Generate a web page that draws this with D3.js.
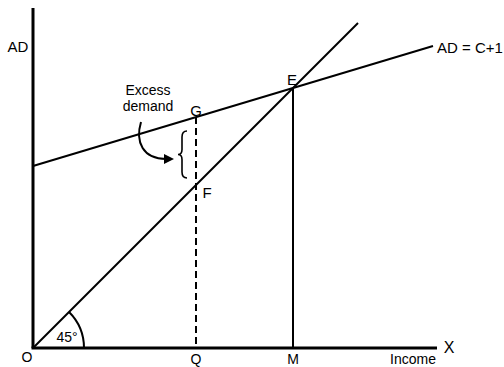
<!DOCTYPE html>
<html>
<head>
<meta charset="utf-8">
<script src="https://cdn.jsdelivr.net/npm/d3@7"></script>
<style>
	body { margin: 0; background: white; }
	svg { display: block; font-family: "Liberation Sans", Arial, sans-serif; }
</style>
</head>
<body>
<div id="viz"></div>
<script>
// Keynesian cross: income (x) against aggregate demand (y)
let line45 = [
	{"income": 0, "ad": 0},
	{"income": 325, "ad": 325}
];
let adLine = [
	{"income": 0, "ad": 182},
	{"income": 400, "ad": 302}
];
let pointE = {"label": "E", "income": 260, "ad": 260};
let pointG = {"label": "G", "income": 163, "ad": 231};
let pointF = {"label": "F", "income": 163, "ad": 163};
let xLabels = [
	{"label": "O", "income": -6},
	{"label": "Q", "income": 163},
	{"label": "M", "income": 260}
];

let width = 504, height = 367;

let svg = d3.select("#viz").append("svg")
	.attr("width", width)
	.attr("height", height);

let x = d3.scaleLinear().domain([0, 404]).range([33, 437]);
let y = d3.scaleLinear().domain([0, 340]).range([348, 8]);

let line = d3.line()
	.x(d => x(d.income))
	.y(d => y(d.ad));

// axes
svg.append("line")
	.attr("x1", x(0)).attr("y1", y(0))
	.attr("x2", x(0)).attr("y2", y(340))
	.attr("stroke", "black").attr("stroke-width", 3);
svg.append("line")
	.attr("x1", x(0) - 1.5).attr("y1", y(0))
	.attr("x2", x(404)).attr("y2", y(0))
	.attr("stroke", "black").attr("stroke-width", 3);

// 45 degree line and AD line
svg.append("path")
	.attr("d", line(line45))
	.attr("fill", "none").attr("stroke", "black").attr("stroke-width", 2);
svg.append("path")
	.attr("d", line(adLine))
	.attr("fill", "none").attr("stroke", "black").attr("stroke-width", 2);

// 45 degree arc
let arcR = 51;
svg.append("path")
	.attr("d", "M" + (x(0) + arcR * Math.SQRT1_2) + "," + (y(0) - arcR * Math.SQRT1_2) +
		" A" + arcR + "," + arcR + " 0 0 1 " + (x(0) + arcR) + "," + y(0))
	.attr("fill", "none").attr("stroke", "black").attr("stroke-width", 2);

// E to M
svg.append("line")
	.attr("x1", x(pointE.income)).attr("y1", y(pointE.ad))
	.attr("x2", x(pointE.income)).attr("y2", y(0))
	.attr("stroke", "black").attr("stroke-width", 2);

// G to Q dashed
svg.append("line")
	.attr("x1", x(pointG.income)).attr("y1", y(pointG.ad))
	.attr("x2", x(pointG.income)).attr("y2", y(0))
	.attr("stroke", "black").attr("stroke-width", 2)
	.attr("stroke-dasharray", "7,4");

// brace between G and F
let bx = x(pointG.income) - 9;
let bTop = y(pointG.ad) + 14, bBot = y(pointF.ad) - 7, bMid = (bTop + bBot) / 2;
svg.append("path")
	.attr("d", "M" + bx + "," + bTop +
		" Q" + (bx - 5) + "," + bTop + " " + (bx - 5) + "," + (bTop + 6) +
		" L" + (bx - 5) + "," + (bMid - 5) +
		" Q" + (bx - 5) + "," + bMid + " " + (bx - 9) + "," + bMid +
		" Q" + (bx - 5) + "," + bMid + " " + (bx - 5) + "," + (bMid + 5) +
		" L" + (bx - 5) + "," + (bBot - 6) +
		" Q" + (bx - 5) + "," + bBot + " " + bx + "," + bBot)
	.attr("fill", "none").attr("stroke", "black").attr("stroke-width", 1.6);

// curved arrow from the label to the brace
svg.append("path")
	.attr("d", "M141,122 C135,142 143,159 166,159")
	.attr("fill", "none").attr("stroke", "black").attr("stroke-width", 2);
svg.append("path")
	.attr("d", "M174,159 L164,154 L164,164 Z")
	.attr("fill", "black");

// texts
let label = (t, px, py, size, anchor) => svg.append("text")
	.attr("x", px).attr("y", py)
	.attr("font-size", size)
	.attr("text-anchor", anchor || "middle")
	.attr("fill", "black")
	.text(t);

label("AD", 18, 52, 15);
label("AD = C+1", 437, 53, 15, "start");
label("X", 449, 353, 16);
label("Income", 413, 364, 14);
label("Excess", 148, 95, 14);
label("demand", 148, 111, 14);
label("45°", 67, 342, 14);
label(pointE.label, x(pointE.income) - 1, 85, 15);
label(pointG.label, x(pointG.income), 116, 15);
label(pointF.label, x(pointF.income) + 11, 198, 15);

xLabels.forEach(d => {
	label(d.label, x(d.income), d.label === "O" ? 362 : 364, 14);
});
</script>
</body>
</html>
